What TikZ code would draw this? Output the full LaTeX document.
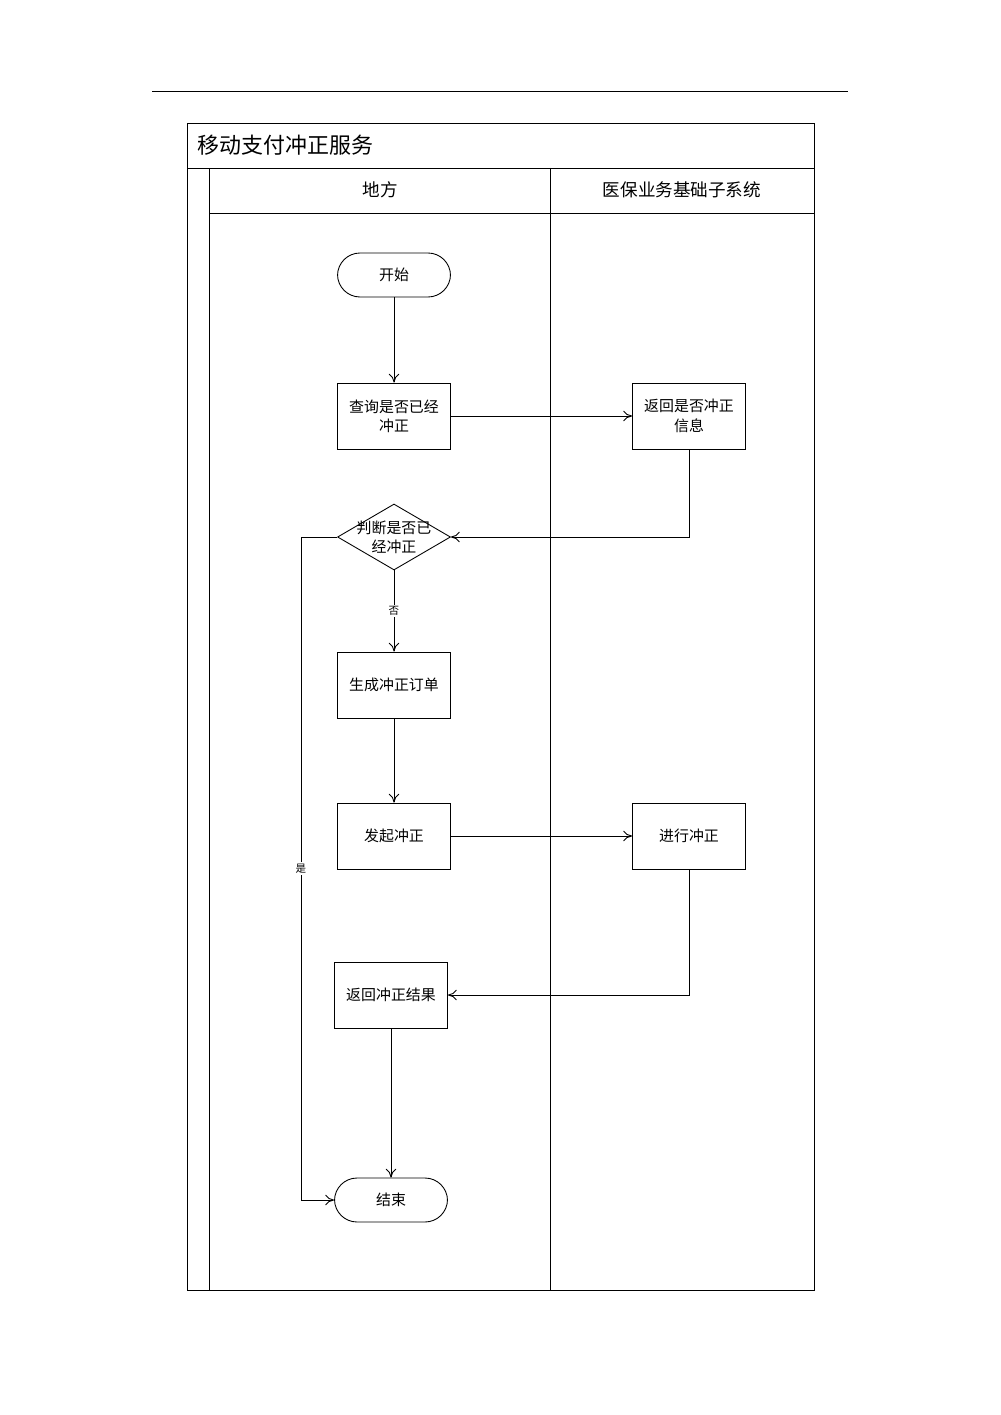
\documentclass[tikz,border=0pt]{standalone}
\usepackage{fontspec}
\newfontfamily\cjk{Noto Sans CJK SC}
\usetikzlibrary{shapes.geometric,arrows.meta}
\begin{document}
\begin{tikzpicture}[x=0.02cm,y=-0.02cm,line width=0.5pt,font=\cjk\fontsize{8.5}{11}\selectfont,
  box/.style={draw,minimum width=2.26cm,minimum height=1.32cm,align=center},
  term/.style={draw,rounded corners=0.45cm,minimum width=2.26cm,minimum height=0.88cm},
  dec/.style={draw,diamond,aspect=1.7,minimum width=2.26cm,minimum height=1.32cm,inner sep=0pt},
  arr/.style={-{To[length=5pt,width=6pt]}},
  lbl/.style={font=\cjk\fontsize{6}{7}\selectfont,fill=white,inner sep=1pt}]
\useasboundingbox (0,0) rectangle (1000,1415);
\draw (152,91) -- (848,91);
\draw (187,123) rectangle (814,1290);
\draw (187,168) -- (814,168);
\draw (209,168) -- (209,1290);
\draw (209,213) -- (814,213);
\draw (550,168) -- (550,1290);
\node[anchor=west,font=\cjk\fontsize{12.5}{14}\selectfont] (title) at (191,145) {移动支付冲正服务};
\node (h1) at (380,190) {\fontsize{10}{12}\selectfont 地方};
\node (h2) at (682,190) {\fontsize{10}{12}\selectfont 医保业务基础子系统};
\node[term] (start) at (394,275) {开始};
\node[box] (q) at (394,416) {查询是否已经\\冲正};
\node[box] (r) at (689,416) {返回是否冲正\\信息};
\node[dec] (d) at (394,537) {};
\node[align=center] (dt) at (394,537) {判断是否已\\经冲正};
\node[box] (g) at (394,685) {生成冲正订单};
\node[box] (f) at (394,836) {发起冲正};
\node[box] (p) at (689,836) {进行冲正};
\node[box] (res) at (391,995) {返回冲正结果};
\node[term] (end) at (391,1200) {结束};
\coordinate (c1) at (301,537);
\coordinate (c2) at (301,1200);
\draw[arr] (start) -- (q);
\draw[arr] (q) -- (r);
\draw[arr] (r.south) |- (d.east);
\draw[arr] (d) -- node[lbl,pos=0.5]{否} (g);
\draw[arr] (g) -- (f);
\draw[arr] (f) -- (p);
\draw[arr] (p.south) |- (res.east);
\draw[arr] (res) -- (end);
\draw[arr] (d.west) -- (c1) -- node[lbl,pos=0.5]{是} (c2) -- (end.west);
\end{tikzpicture}
\end{document}
